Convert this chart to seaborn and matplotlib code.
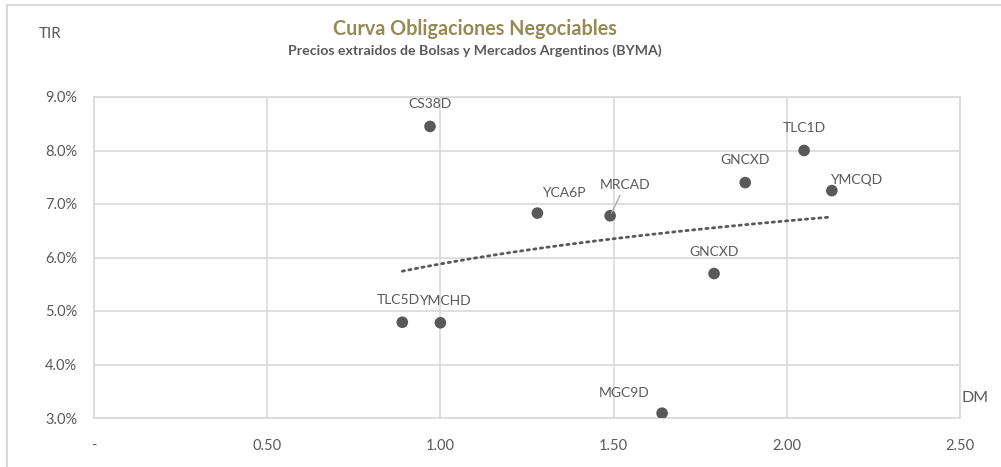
import matplotlib
matplotlib.use("Agg")
import matplotlib.pyplot as plt
import seaborn as sns
import pandas as pd
import numpy as np
from matplotlib.ticker import FuncFormatter, MultipleLocator
from matplotlib.lines import Line2D

# ---- data ----
names = ["CS38D", "YCA6P", "MRCAD", "TLC5D", "YMCHD", "TLC1D", "GNCXD", "YMCQD", "GNCXD", "MGC9D"]
dm = [0.97, 1.28, 1.49, 0.89, 1.00, 2.05, 1.88, 2.13, 1.79, 1.64]
tir = [0.0845, 0.0683, 0.0678, 0.0479, 0.0478, 0.0800, 0.0740, 0.0725, 0.0570, 0.0309]

title = "Curva Obligaciones Negociables"
subtitle = "Precios extraidos de Bolsas y Mercados Argentinos (BYMA)"
y_label = "TIR"
x_label = "DM"

# label offsets in pixels (style only)
label_offsets = [(0, 22), (26, 20), (15, 31), (-4, 22), (4, 22), (0, 22), (0, 23), (24, 11), (0, 22), (-38, 20)]

df = pd.DataFrame({"name": names, "DM": dm, "TIR": tir})

sns.set_theme(style="white")
plt.rcParams["font.family"] = ["Lato", "DejaVu Sans"]

TXT = "#595959"
GRID = "#D9D9D9"
PT = "#595959"

fig = plt.figure(figsize=(10.01, 4.67), dpi=100)
ax = fig.add_axes([94 / 1001, 1 - 418 / 467, (960 - 94) / 1001, (418 - 97) / 467])

sns.regplot(data=df, x="DM", y="TIR", logx=True, ci=None, scatter=False, truncate=True,
            ax=ax, line_kws=dict(color=PT, lw=2.0, linestyle=(0, (0.8, 1.6)), dash_capstyle="round"))
sns.scatterplot(data=df, x="DM", y="TIR", ax=ax, s=70, color=PT, edgecolor="none", zorder=3)

ax.set_xlim(0, 2.5)
ax.set_ylim(0.03, 0.09)
ax.xaxis.set_major_locator(MultipleLocator(0.5))
ax.yaxis.set_major_locator(MultipleLocator(0.01))
ax.xaxis.set_major_formatter(FuncFormatter(lambda v, p: "-" if abs(v) < 1e-9 else f"{v:.2f}"))
ax.yaxis.set_major_formatter(FuncFormatter(lambda v, p: f"{v*100:.1f}%"))
ax.grid(True, color=GRID, lw=1.2)
ax.set_axisbelow(True)
for s in ax.spines.values():
    s.set_color(GRID)
    s.set_linewidth(1.2)
ax.tick_params(axis="both", colors=TXT, labelsize=10.5, length=0)
ax.tick_params(axis="x", pad=15)
ax.tick_params(axis="y", pad=12)
ax.set_xlabel("")
ax.set_ylabel("")

for i, (n, x, y) in enumerate(zip(names, dm, tir)):
    dx, dy = label_offsets[i]
    if n == "MRCAD":
        ax.annotate(n, (x, y), xytext=(dx, dy), textcoords="offset pixels", ha="center", va="center",
                    fontsize=10, color=TXT, zorder=4,
                    arrowprops=dict(arrowstyle="-", color="#A6A6A6", lw=0.9, shrinkA=1, shrinkB=2))
    else:
        ax.annotate(n, (x, y), xytext=(dx, dy), textcoords="offset pixels", ha="center", va="center",
                    fontsize=10, color=TXT, zorder=4)

fig.text(475 / 1001, 1 - 29 / 467, title, ha="center", va="center", fontsize=14.2,
         fontweight="bold", color="#948A54")
fig.text(475 / 1001, 1 - 51 / 467, subtitle, ha="center", va="center", fontsize=10.2,
         fontweight="bold", color=TXT)
fig.text(50 / 1001, 1 - 34 / 467, y_label, ha="center", va="center", fontsize=11, color=TXT)
fig.text(975 / 1001, 1 - 398 / 467, x_label, ha="center", va="center", fontsize=11.5, color=TXT)

# chart frame (top and left visible)
fig.add_artist(Line2D([7 / 1001, 7 / 1001], [0, 1 - 5 / 467], transform=fig.transFigure, color=GRID, lw=1.5))
fig.add_artist(Line2D([7 / 1001, 1], [1 - 5 / 467, 1 - 5 / 467], transform=fig.transFigure, color=GRID, lw=1.5))

fig.savefig("out.png", dpi=100)
